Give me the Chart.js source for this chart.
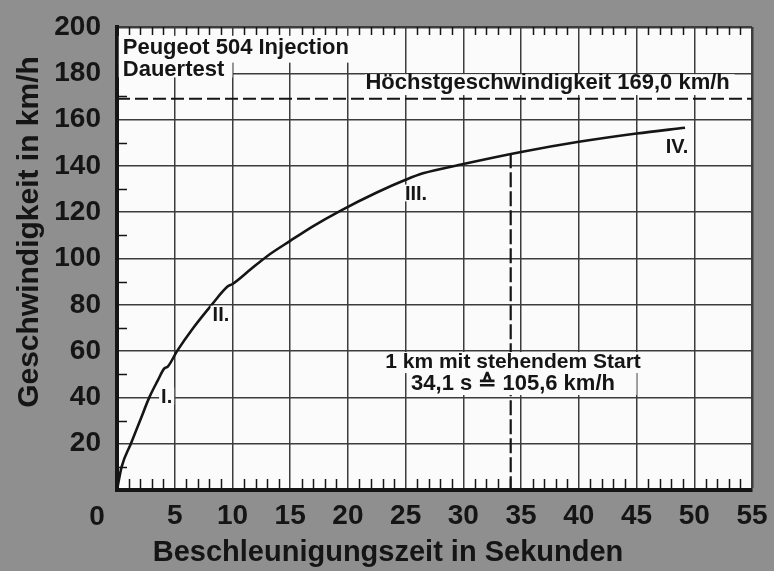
<!DOCTYPE html>
<html>
<head>
<meta charset="utf-8">
<script src="https://cdn.jsdelivr.net/npm/chart.js@4.4.0/dist/chart.umd.min.js"></script>
<style>
  html, body { margin: 0; padding: 0; background: #8f8f8f; }
  #wrap { width: 774px; height: 571px; }
</style>
</head>
<body>
<div id="wrap"><canvas id="chart" width="774" height="571"></canvas></div>
<script>
// Acceleration curve: time in s, speed in km/h
const timeSec  = [0, 0.4, 1.2, 2.0, 2.8, 3.5, 4.1, 4.4, 5.2, 6.6, 8.2, 9.6, 10.0, 11.5, 13.0, 15.0, 17.0, 19.3, 22.5, 25.0, 26.5, 30.0, 35.0, 40.0, 45.0, 49.2];
const speedKmh = [0, 10, 20, 30, 40, 47, 52.5, 53.3, 60, 70, 80, 88, 89, 95, 101, 107.6, 114, 120.5, 128.5, 134, 136.8, 140.8, 146, 150.4, 154, 156.5];

// Reference lines
const topSpeed = 169.0;
const kmTime = 34.1;
const kmCurveSpeed = 145.5;

// Tick labels
const xTickValues = [0, 5, 10, 15, 20, 25, 30, 35, 40, 45, 50, 55];
const yTickValues = [0, 20, 40, 60, 80, 100, 120, 140, 160, 180, 200];

// Gear labels and notes, placed in data units
const notes = [
  { text: 'Peugeot 504 Injection', x: 0.5, y: 191.4, align: 'left', size: 22, box: [0.15, 21.9, 184.6, 196.2] },
  { text: 'Dauertest', x: 0.5, y: 182.1, align: 'left', size: 22, box: [0.15, 10.0, 178.2, 184.8] },
  { text: 'Höchstgeschwindigkeit 169,0 km/h', x: 37.3, y: 176.2, align: 'center', size: 22, box: [21.5, 53.5, 170.6, 179.6] },
  { text: '1 km mit stehendem Start', x: 34.3, y: 55.6, align: 'center', size: 21, box: [22.75, 45.7, 50.5, 59.6] },
  { text: '34,1 s \u2259 105,6 km/h', x: 34.3, y: 46.2, align: 'center', size: 22, box: [25.25, 45.0, 41.0, 50.5] },
  { text: 'I.', x: 4.3, y: 40.6, align: 'center', size: 20, pad: 2 },
  { text: 'II.', x: 9.0, y: 76, align: 'center', size: 20, pad: 2 },
  { text: 'III.', x: 25.9, y: 128.3, align: 'center', size: 20, pad: 2 },
  { text: 'IV.', x: 48.5, y: 148.6, align: 'center', size: 20, pad: 2 }
];

const FONT = "'Liberation Sans', Arial, sans-serif";
const INK = '#151515';
const GRID = '#3c3c3c';

const curve = timeSec.map((t, i) => ({ x: t, y: speedKmh[i] }));

// keep label overflow from shrinking the plot area
function noOverflow(s) {
  s.paddingLeft = 0;
  s.paddingRight = 0;
  s.paddingTop = 0;
  s.paddingBottom = 0;
}

// paper, minor ticks, notes and axis titles
const paperPlugin = {
  id: 'paper',
  beforeDraw(chart) {
    const { ctx, chartArea: a } = chart;
    ctx.save();
    ctx.fillStyle = '#8f8f8f';
    ctx.fillRect(0, 0, chart.width, chart.height);
    ctx.fillStyle = '#fbfbfb';
    ctx.fillRect(a.left, a.top, a.right - a.left, a.bottom - a.top);
    ctx.restore();
  },
  beforeDatasetsDraw(chart) {
    const { ctx, chartArea: a, scales } = chart;
    ctx.save();
    ctx.strokeStyle = INK;
    ctx.lineWidth = 1.5;
    ctx.beginPath();
    for (let s = 1; s < 55; s++) {
      if (s % 5 === 0) continue;
      const px = Math.round(scales.x.getPixelForValue(s)) + 0.5;
      ctx.moveTo(px, a.bottom);
      ctx.lineTo(px, a.bottom - 11);
      ctx.moveTo(px, a.top);
      ctx.lineTo(px, a.top + 8);
    }
    for (let v = 10; v < 200; v += 20) {
      const py = Math.round(scales.y.getPixelForValue(v)) + 0.5;
      ctx.moveTo(a.left, py);
      ctx.lineTo(a.left + 10, py);
    }
    ctx.stroke();
    ctx.restore();
  },
  afterDatasetsDraw(chart) {
    const { ctx, scales } = chart;
    const xs = scales.x, ys = scales.y;
    ctx.save();
    ctx.textBaseline = 'middle';
    notes.forEach(n => {
      ctx.font = `bold ${n.size}px ${FONT}`;
      const px = xs.getPixelForValue(n.x);
      const py = ys.getPixelForValue(n.y);
      ctx.fillStyle = '#fbfbfb';
      if (n.box) {
        const x0 = xs.getPixelForValue(n.box[0]), x1 = xs.getPixelForValue(n.box[1]);
        const y0 = ys.getPixelForValue(n.box[3]), y1 = ys.getPixelForValue(n.box[2]);
        ctx.fillRect(x0, y0, x1 - x0, y1 - y0);
      } else {
        const w = ctx.measureText(n.text).width;
        const left = n.align === 'center' ? px - w / 2 : px;
        ctx.fillRect(left - n.pad, py - n.size * 0.42, w + 2 * n.pad, n.size * 0.84);
      }
      ctx.fillStyle = INK;
      ctx.textAlign = n.align;
      ctx.fillText(n.text, px, py + 1);
    });
    ctx.restore();
  },
  afterDraw(chart) {
    const { ctx, chartArea: a, scales } = chart;
    ctx.save();
    ctx.fillStyle = INK;
    ctx.textBaseline = 'middle';
    ctx.textAlign = 'center';
    ctx.font = `bold 28px ${FONT}`;
    // shared origin label, set left of the corner
    ctx.fillText('0', scales.x.getPixelForValue(0) - 20, a.bottom + 27);
    ctx.font = `bold 29px ${FONT}`;
    ctx.fillText('Beschleunigungszeit in Sekunden', a.left + 271, a.bottom + 63);
    ctx.translate(30, a.top + 205);
    ctx.rotate(-Math.PI / 2);
    ctx.font = `bold 30px ${FONT}`;
    ctx.fillText('Geschwindigkeit in km/h', 0, 0);
    ctx.restore();
  }
};

new Chart(document.getElementById('chart'), {
  type: 'scatter',
  data: {
    datasets: [
      {
        label: 'Beschleunigung',
        data: curve,
        showLine: true,
        borderColor: INK,
        borderWidth: 2.6,
        pointRadius: 0,
        cubicInterpolationMode: 'monotone'
      },
      {
        label: 'Höchstgeschwindigkeit',
        data: [{ x: 0, y: topSpeed }, { x: 55, y: topSpeed }],
        showLine: true,
        borderColor: INK,
        borderWidth: 2.2,
        borderDash: [13, 5],
        pointRadius: 0
      },
      {
        label: '1 km',
        data: [{ x: kmTime, y: kmCurveSpeed }, { x: kmTime, y: 0 }],
        showLine: true,
        borderColor: INK,
        borderWidth: 2.2,
        borderDash: [15, 4],
        pointRadius: 0
      }
    ]
  },
  options: {
    responsive: false,
    animation: false,
    events: [],
    layout: { padding: { left: 0, right: 22, top: 27, bottom: 0 } },
    plugins: { legend: { display: false }, tooltip: { enabled: false } },
    scales: {
      x: {
        type: 'linear',
        min: 0,
        max: 55,
        afterBuildTicks: s => { s.ticks = xTickValues.map(v => ({ value: v })); },
        afterFit: s => { s.height = 81; noOverflow(s); },
        grid: {
          color: GRID,
          lineWidth: c => (c.tick && c.tick.value === 55 ? 2.5 : 1.5),
          drawTicks: false
        },
        border: { color: INK, width: 4 },
        ticks: {
          padding: 9,
          color: INK,
          font: { family: FONT, size: 28, weight: 'bold' },
          maxRotation: 0,
          autoSkip: false,
          callback: v => (v === 0 ? '' : String(v))
        }
      },
      y: {
        type: 'linear',
        min: 0,
        max: 200,
        afterBuildTicks: s => { s.ticks = yTickValues.map(v => ({ value: v })); },
        afterFit: s => { s.width = 117; noOverflow(s); },
        grid: {
          color: GRID,
          lineWidth: c => (c.tick && c.tick.value === 200 ? 2.5 : 1.5),
          drawTicks: false
        },
        border: { color: INK, width: 4 },
        ticks: {
          padding: 16,
          color: INK,
          font: { family: FONT, size: 28, weight: 'bold' },
          autoSkip: false,
          callback: v => (v === 0 ? '' : String(v))
        }
      }
    }
  },
  plugins: [paperPlugin]
});
</script>
</body>
</html>
